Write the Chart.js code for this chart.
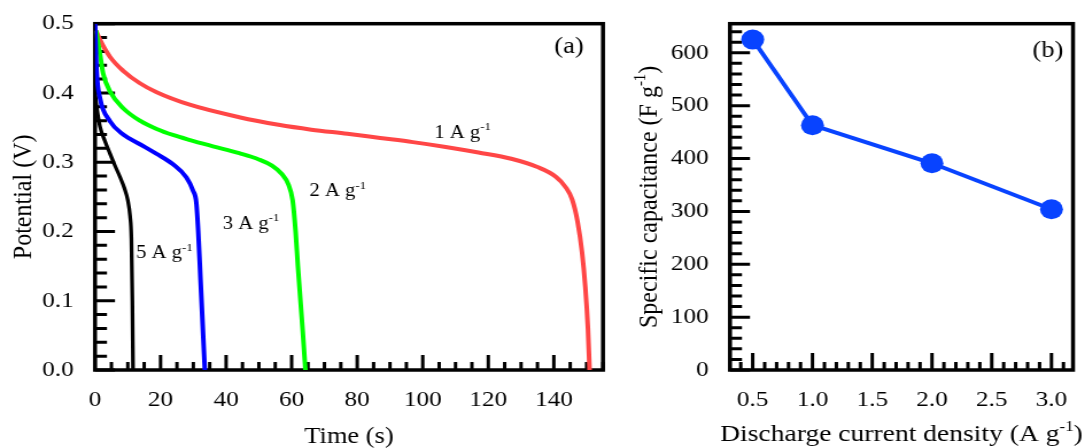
<!DOCTYPE html>
<html>
<head>
<meta charset="utf-8">
<script src="https://cdn.jsdelivr.net/npm/chart.js@4.4.1/dist/chart.umd.min.js"></script>
<style>
  html, body { margin: 0; padding: 0; background: #fff; }
  #wrap { position: relative; width: 1085px; height: 448px; overflow: hidden; }
  .panel { position: absolute; top: 0; height: 448px; transform-origin: 0 0; }
  #pa { left: 0; width: 540px; }
  #pb { left: 620px; width: 405px; }
  canvas { display: block; }
</style>
</head>
<body>
<div id="wrap">
  <div class="panel" id="pa"><canvas id="cvA" width="540" height="448"></canvas></div>
  <div class="panel" id="pb"><canvas id="cvB" width="405" height="448"></canvas></div>
</div>
<script>
// (a) galvanostatic discharge, time (s) / potential (V)
const time1 = [0.3, 1.5, 4.6, 8.6, 13.7, 18.8, 28.9, 44, 56, 66, 77, 87, 97, 107, 117, 127, 135, 140.6, 143.6, 145.6, 147.2, 148.6, 149.6, 150.4, 150.9];
const pot1  = [0.49, 0.477, 0.452, 0.432, 0.414, 0.401, 0.383, 0.365, 0.354, 0.347, 0.341, 0.335, 0.329, 0.322, 0.314, 0.305, 0.293, 0.279, 0.264, 0.246, 0.215, 0.17, 0.12, 0.06, 0];

const time2 = [0.3, 1.5, 2.5, 4.6, 8.6, 13.7, 18.8, 24, 29, 36, 44, 50, 54, 57, 59, 60.3, 61.2, 61.9, 63.4, 64.2];
const pot2  = [0.49, 0.457, 0.428, 0.402, 0.378, 0.360, 0.348, 0.339, 0.332, 0.323, 0.313, 0.304, 0.295, 0.283, 0.268, 0.245, 0.2, 0.15, 0.055, 0];

const time3 = [0, 0.2, 0.5, 1.5, 4.6, 8.6, 13.7, 18.8, 23.8, 27.9, 29.9, 30.9, 31.5, 32.2, 33, 33.5];
const pot3  = [0.5, 0.47, 0.431, 0.393, 0.359, 0.340, 0.326, 0.312, 0.297, 0.278, 0.259, 0.242, 0.2, 0.13, 0.05, 0];

const time5 = [0, 0.5, 1.5, 3, 4.6, 6, 7.6, 9, 10, 10.7, 11.1, 11.4, 11.6];
const pot5  = [0.40, 0.38, 0.352, 0.331, 0.312, 0.296, 0.279, 0.262, 0.245, 0.222, 0.19, 0.1, 0];

const timeTicks = [0, 20, 40, 60, 80, 100, 120, 140];
const potTicks = [0, 0.1, 0.2, 0.3, 0.4, 0.5];

// (b) specific capacitance vs current density
const density = [0.5, 1.0, 2.0, 3.0];
const capacitance = [625, 463, 391, 304];
const densityTicks = [0.5, 1.0, 1.5, 2.0, 2.5, 3.0];
const capTicks = [0, 100, 200, 300, 400, 500, 600];

const SX = 620 / 540;   // horizontal stretch of both panels
document.getElementById('pa').style.transform = `scaleX(${SX})`;
document.getElementById('pb').style.transform = `scaleX(${SX})`;

const FAM = '"Liberation Serif", "Times New Roman", serif';

function pts(xs, ys) { return xs.map((x, i) => ({ x, y: ys[i] })); }

// text made of pieces, some of them superscript
function rich(ctx, parts, x, y, size, align) {
  let w = 0;
  const ws = parts.map(([s, sup]) => {
    ctx.font = `${sup ? size * 0.62 : size}px ${FAM}`;
    const m = ctx.measureText(s).width;
    w += m;
    return m;
  });
  let cx = align === 'center' ? x - w / 2 : x;
  ctx.fillStyle = '#000';
  ctx.textAlign = 'left';
  ctx.textBaseline = 'alphabetic';
  parts.forEach(([s, sup], i) => {
    ctx.font = `${sup ? size * 0.62 : size}px ${FAM}`;
    ctx.fillText(s, cx, sup ? y - size * 0.42 : y);
    cx += ws[i];
  });
}

// thick box with inward ticks
function framePlugin(f) {
  return {
    id: 'frame',
    beforeDatasetsDraw(chart) {
      const { ctx, chartArea: a, scales: { x, y } } = chart;
      ctx.save();
      ctx.strokeStyle = '#000';
      ctx.lineWidth = 3;
      ctx.beginPath();
      for (let n = Math.ceil(x.min / f.xMinor - 1e-6); n * f.xMinor <= x.max + 1e-9; n++) {
        const v = n * f.xMinor;
        const major = Math.abs(v / f.xMajor - Math.round(v / f.xMajor)) < 1e-6;
        const px = x.getPixelForValue(v);
        ctx.moveTo(px, a.bottom);
        ctx.lineTo(px, a.bottom - (major ? f.xLen[0] : f.xLen[1]));
      }
      for (let n = Math.ceil(y.min / f.yMinor - 1e-6); n * f.yMinor <= y.max + 1e-9; n++) {
        const v = n * f.yMinor;
        const major = Math.abs(v / f.yMajor - Math.round(v / f.yMajor)) < 1e-6;
        const py = y.getPixelForValue(v);
        ctx.moveTo(a.left, py);
        ctx.lineTo(a.left + (major ? f.yLen[0] : f.yLen[1]), py);
      }
      ctx.stroke();
      ctx.lineWidth = 3.5;
      ctx.strokeRect(a.left, a.top, a.right - a.left, a.bottom - a.top);
      ctx.restore();
    }
  };
}

// axis titles, panel tag and curve notes
function textPlugin(t) {
  return {
    id: 'texts',
    afterDraw(chart) {
      const { ctx, chartArea: a, scales: { x, y } } = chart;
      ctx.save();
      rich(ctx, t.xTitle, (a.left + a.right) / 2, t.xTitleY, t.xSize, 'center');
      ctx.save();
      ctx.translate(t.yTitleX, (a.top + a.bottom) / 2);
      ctx.rotate(-Math.PI / 2);
      rich(ctx, t.yTitle, 0, 0, t.ySize, 'center');
      ctx.restore();
      ctx.font = `${t.tagSize}px ${FAM}`;
      ctx.textAlign = 'center';
      ctx.textBaseline = 'middle';
      ctx.fillText(t.tag, a.right - t.tagDx, a.top + t.tagDy);
      (t.notes || []).forEach(nt => {
        rich(ctx, nt.parts, x.getPixelForValue(nt.x), y.getPixelForValue(nt.y), nt.size, 'left');
      });
      ctx.restore();
    }
  };
}

const tickFont = { family: FAM, size: 22 };

function axes(xr, yr, xt, yt, fmtX, fmtY, yw) {
  return {
    x: {
      type: 'linear', min: xr[0], max: xr[1],
      afterBuildTicks: s => { s.ticks = xt.map(value => ({ value })); },
      afterFit: s => { s.height = 78; },
      grid: { display: false }, border: { display: false },
      ticks: { font: tickFont, color: '#000', padding: 9, maxRotation: 0, autoSkip: false, callback: fmtX }
    },
    y: {
      type: 'linear', min: yr[0], max: yr[1],
      afterBuildTicks: s => { s.ticks = yt.map(value => ({ value })); },
      afterFit: s => { s.width = yw; },
      grid: { display: false }, border: { display: false },
      ticks: { font: tickFont, color: '#000', padding: 10.5, autoSkip: false, callback: fmtY }
    }
  };
}

const curve = (label, xs, ys, color, w) => ({
  label, data: pts(xs, ys), borderColor: color, borderWidth: w,
  pointRadius: 0, cubicInterpolationMode: 'monotone', fill: false
});

const sup = s => [[s], ['-1', true]];

new Chart(document.getElementById('cvA'), {
  type: 'line',
  data: {
    datasets: [
      curve('3 A g-1', time3, pot3, '#0000ff', 4),
      curve('5 A g-1', time5, pot5, '#000000', 3.3),
      curve('2 A g-1', time2, pot2, '#00ff00', 4),
      curve('1 A g-1', time1, pot1, '#ff4646', 4)
    ]
  },
  options: {
    responsive: false, animation: false, devicePixelRatio: 1,
    layout: { padding: { top: 22, right: 540 - 603 / SX, left: 0, bottom: 0 } },
    plugins: { legend: { display: false }, tooltip: { enabled: false } },
    scales: axes([0, 155], [0, 0.5], timeTicks, potTicks,
      v => String(v), v => v.toFixed(1), 95 / SX)
  },
  plugins: [
    framePlugin({ xMinor: 5, xMajor: 20, yMinor: 0.02, yMajor: 0.1, xLen: [15, 8], yLen: [20 / SX, 12 / SX] }),
    textPlugin({
      xTitle: [['Time (s)']], xTitleY: 443, xSize: 23,
      yTitle: [['Potential (V)']], yTitleX: 27, ySize: 24,
      tag: '(a)', tagSize: 23, tagDx: 34 / SX, tagDy: 23,
      notes: [
        { parts: sup('1 A g'), x: 103.5, y: 0.335, size: 18 },
        { parts: sup('2 A g'), x: 65.4, y: 0.251, size: 18 },
        { parts: sup('3 A g'), x: 39, y: 0.204, size: 18 },
        { parts: sup('5 A g'), x: 12.5, y: 0.161, size: 18 }
      ]
    })
  ]
});

new Chart(document.getElementById('cvB'), {
  type: 'line',
  data: {
    datasets: [{
      label: 'Specific capacitance',
      data: pts(density, capacitance),
      borderColor: '#0843ff', backgroundColor: '#0843ff', borderWidth: 4,
      pointRadius: 10, pointBorderWidth: 0, tension: 0
    }]
  },
  options: {
    responsive: false, animation: false, devicePixelRatio: 1,
    layout: { padding: { top: 23, right: 405 - 453 / SX, left: 0, bottom: 0 } },
    plugins: { legend: { display: false }, tooltip: { enabled: false } },
    scales: axes([0.31, 3.18], [0, 655], densityTicks, capTicks,
      v => v.toFixed(1), v => String(v), 110 / SX)
  },
  plugins: [
    framePlugin({ xMinor: 0.1, xMajor: 0.5, yMinor: 20, yMajor: 100, xLen: [17, 8], yLen: [20 / SX, 12 / SX] }),
    textPlugin({
      xTitle: [['Discharge current density (A g'], ['-1', true], [')']], xTitleY: 441, xSize: 24,
      yTitle: [['Specific capacitance (F g'], ['-1', true], [')']], yTitleX: 32, ySize: 24,
      tag: '(b)', tagSize: 23, tagDx: 25 / SX, tagDy: 27
    })
  ]
});
</script>
</body>
</html>
